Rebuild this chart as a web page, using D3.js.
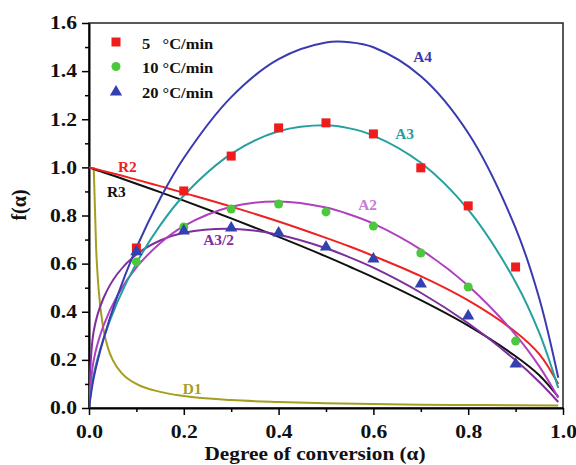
<!DOCTYPE html>
<html>
<head>
<meta charset="utf-8">
<script src="https://cdn.jsdelivr.net/npm/d3@7"></script>
<style>
    body { margin: 0; background: #fff; }
    text { font-family: "Liberation Serif", "Times New Roman", serif; font-weight: bold; }
</style>
</head>
<body>
<div id="chart-area"></div>
<script>
// model curves
const alphaGrid = [0, 0.01, 0.03, 0.06, 0.1, 0.15, 0.2, 0.3, 0.4, 0.5, 0.55, 0.6, 0.7, 0.8, 0.9, 0.95, 0.99]
const A4 = [0, 0.126, 0.283, 0.466, 0.666, 0.870, 1.039, 1.292, 1.450, 1.519, 1.520, 1.499, 1.379, 1.143, 0.748, 0.455, 0.126]
const A3 = [0, 0.138, 0.284, 0.441, 0.602, 0.759, 0.883, 1.056, 1.150, 1.175, 1.162, 1.132, 1.019, 0.824, 0.523, 0.312, 0.083]
const A2 = [0, 0.199, 0.339, 0.468, 0.584, 0.685, 0.756, 0.836, 0.858, 0.833, 0.804, 0.766, 0.658, 0.508, 0.304, 0.173, 0.043]
const A32 = [0, 0.320, 0.454, 0.558, 0.638, 0.696, 0.728, 0.745, 0.720, 0.664, 0.626, 0.583, 0.479, 0.352, 0.198, 0.108, 0.025]
const R2 = [1, 0.995, 0.985, 0.970, 0.949, 0.922, 0.894, 0.837, 0.775, 0.707, 0.671, 0.632, 0.548, 0.447, 0.316, 0.224, 0.100]
const R3 = [1, 0.993, 0.980, 0.960, 0.932, 0.897, 0.862, 0.788, 0.711, 0.630, 0.587, 0.543, 0.448, 0.342, 0.215, 0.136, 0.046]

const d1Alpha = [0.01, 0.015, 0.02, 0.03, 0.04, 0.05, 0.07, 0.1, 0.15, 0.2, 0.3, 0.4, 0.5, 0.6, 0.7, 0.8, 0.9, 0.99]
const D1 = [1.0, 0.667, 0.5, 0.333, 0.25, 0.2, 0.143, 0.1, 0.067, 0.05, 0.033, 0.025, 0.02, 0.017, 0.014, 0.0125, 0.011, 0.010]

// experimental points
const expAlpha = [0.1, 0.2, 0.3, 0.4, 0.5, 0.6, 0.7, 0.8, 0.9]
const rate5 = [0.665, 0.902, 1.047, 1.164, 1.185, 1.139, 0.998, 0.840, 0.586]
const rate10 = [0.607, 0.752, 0.827, 0.848, 0.815, 0.756, 0.644, 0.503, 0.278]
const rate20 = [0.650, 0.736, 0.748, 0.727, 0.669, 0.619, 0.515, 0.382, 0.183]
const legendLabels = ["5\u2007 °C/min", "10 °C/min", "20 °C/min"]

const xTicks = [0, 0.2, 0.4, 0.6, 0.8, 1.0]
const yTicks = [0, 0.2, 0.4, 0.6, 0.8, 1.0, 1.2, 1.4, 1.6]

const MARGIN = { LEFT: 89, RIGHT: 13, TOP: 23, BOTTOM: 57 }
const WIDTH = 576 - MARGIN.LEFT - MARGIN.RIGHT
const HEIGHT = 465 - MARGIN.TOP - MARGIN.BOTTOM
const SX = 1.15   // the source text is a little wider than the font

const svg = d3.select("#chart-area").append("svg")
    .attr("width", 576)
    .attr("height", 465)

const g = svg.append("g")
    .attr("transform", `translate(${MARGIN.LEFT}, ${MARGIN.TOP})`)

const x = d3.scaleLinear().domain([0, 1]).range([0, WIDTH])
const y = d3.scaleLinear().domain([0, 1.6]).range([HEIGHT, 0])

g.append("clipPath").attr("id", "clip")
    .append("rect").attr("width", WIDTH).attr("height", HEIGHT)

function label(sel, px, py, str, size, color, anchor, sx) {
    return sel.append("text")
        .attr("transform", `translate(${px}, ${py}) scale(${sx || SX}, 1)`)
        .attr("font-size", size + "px")
        .attr("fill", color)
        .attr("text-anchor", anchor || "start")
        .text(str)
}

// frame
g.append("rect")
    .attr("width", WIDTH).attr("height", HEIGHT)
    .attr("fill", "none").attr("stroke", "#222").attr("stroke-width", 1.5)

// minor ticks
g.append("g")
    .attr("transform", `translate(0, ${HEIGHT})`)
    .call(d3.axisBottom(x).tickValues([0.1, 0.3, 0.5, 0.7, 0.9]).tickSize(4).tickFormat(""))
    .call(a => a.select(".domain").remove())
    .selectAll("line").attr("stroke-width", 1.5)
g.append("g")
    .call(d3.axisLeft(y).tickValues([0.1, 0.3, 0.5, 0.7, 0.9, 1.1, 1.3, 1.5]).tickSize(4).tickFormat(""))
    .call(a => a.select(".domain").remove())
    .selectAll("line").attr("stroke-width", 1.5)

// major axes
const xAxis = g.append("g")
    .attr("transform", `translate(0, ${HEIGHT})`)
    .call(d3.axisBottom(x).tickValues(xTicks).tickFormat(d3.format(".1f")).tickSize(7).tickPadding(10).tickSizeOuter(0))
xAxis.select(".domain").attr("stroke-width", 2)
xAxis.selectAll("line").attr("stroke-width", 1.5)
xAxis.selectAll("text")
    .attr("font-size", "18px").attr("fill", "#111")
    .attr("transform", `scale(${SX + 0.05}, 1)`)

const yAxis = g.append("g")
    .call(d3.axisLeft(y).tickValues(yTicks).tickFormat(d3.format(".1f")).tickSize(7).tickPadding(3).tickSizeOuter(0))
yAxis.select(".domain").attr("stroke-width", 2)
yAxis.selectAll("line").attr("stroke-width", 1.5)
yAxis.selectAll("text")
    .attr("font-size", "18px").attr("fill", "#111")
    .attr("transform", `scale(${SX + 0.05}, 1)`)

// axis titles
label(svg, 315, 460, "Degree of conversion (α)", 19, "#111", "middle", 1.12)
svg.append("text")
    .attr("transform", "translate(26, 205) rotate(-90)")
    .attr("font-size", "20px")
    .attr("fill", "#111")
    .attr("text-anchor", "middle")
    .text("f(α)")

// model curves
const curves = [
    { name: "D1", a: d1Alpha, v: D1, color: "#a59f1e", lx: 0.198, ly: 0.058 },
    { name: "R3", a: alphaGrid, v: R3, color: "#111111", lx: 0.038, ly: 0.877 },
    { name: "R2", a: alphaGrid, v: R2, color: "#ee2222", lx: 0.061, ly: 0.981 },
    { name: "A3/2", a: alphaGrid, v: A32, color: "#7d2f9f", lx: 0.241, ly: 0.677 },
    { name: "A2", a: alphaGrid, v: A2, color: "#b040c0", lx: 0.568, ly: 0.823, lcolor: "#c77ad6" },
    { name: "A3", a: alphaGrid, v: A3, color: "#25a0a0", lx: 0.646, ly: 1.118 },
    { name: "A4", a: alphaGrid, v: A4, color: "#3a3ab0", lx: 0.684, ly: 1.438 }
]

const line = d3.line()
    .x(d => x(d[0]))
    .y(d => y(d[1]))
    .curve(d3.curveCatmullRom.alpha(0.5))

const d1Line = d3.line()
    .x(d => x(d[0]))
    .y(d => y(d[1]))
    .curve(d3.curveMonotoneX)

const plot = g.append("g").attr("clip-path", "url(#clip)")

curves.forEach(c => {
    plot.append("path")
        .datum(c.a.map((a, i) => [a, c.v[i]]))
        .attr("fill", "none")
        .attr("stroke", c.color)
        .attr("stroke-width", 2)
        .attr("d", c.name === "D1" ? d1Line : line)
    label(g, x(c.lx), y(c.ly), c.name, 14, c.lcolor || c.color, "start", 1.1)
})

// experimental points
const squares = g.selectAll(".sq").data(expAlpha.map((a, i) => [a, rate5[i]]))
squares.enter().append("rect")
    .attr("class", "sq")
    .attr("x", d => x(d[0]) - 4.5)
    .attr("y", d => y(d[1]) - 4.5)
    .attr("width", 9).attr("height", 9)
    .attr("fill", "#ee1c1c")

const circles = g.selectAll(".ci").data(expAlpha.map((a, i) => [a, rate10[i]]))
circles.enter().append("circle")
    .attr("class", "ci")
    .attr("cx", d => x(d[0]))
    .attr("cy", d => y(d[1]))
    .attr("r", 4.5)
    .attr("fill", "#4cc83c")

const tri = d3.symbol().type(d3.symbolTriangle).size(65)
const triangles = g.selectAll(".tr").data(expAlpha.map((a, i) => [a, rate20[i]]))
triangles.enter().append("path")
    .attr("class", "tr")
    .attr("d", tri)
    .attr("transform", d => `translate(${x(d[0])}, ${y(d[1])})`)
    .attr("fill", "#3340b0")

// legend
const legend = svg.append("g").attr("transform", "translate(116, 42)")
legend.append("rect").attr("x", -4.5).attr("y", -4.5).attr("width", 9).attr("height", 9).attr("fill", "#ee1c1c")
legend.append("circle").attr("cy", 24.5).attr("r", 4.5).attr("fill", "#4cc83c")
legend.append("path").attr("d", tri).attr("transform", "translate(0, 50)").attr("fill", "#3340b0")
legendLabels.forEach((t, i) => {
    label(legend, 26, 6.5 + i * 24.5, t, 15, "#111", "start", 1.1)
        .style("white-space", "pre")
})
</script>
</body>
</html>
